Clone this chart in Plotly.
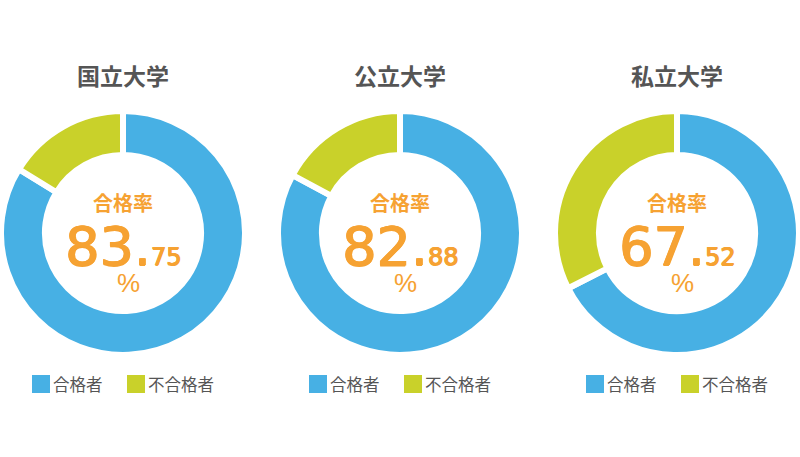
import plotly.graph_objects as go

W, H = 800, 457

# data
schools = ["国立大学", "公立大学", "私立大学"]
labels = ["合格者", "不合格者"]
pass_rate = [83.75, 82.88, 67.52]
colors = ["#47b0e4", "#c9d12a"]

ORANGE = "#f6a232"
GRAY = "#555555"
CENTERS_X = [123, 400, 677]   # px
CENTER_Y = 233                # px from top
R = 122                       # outer radius incl. white border
HOLE = 0.64
# a little extra ink on the big digits (medium weight in the original)
THICK = f"0.9px 0 0 {ORANGE}, -0.4px 0 0 {ORANGE}, 0 0.6px 0 {ORANGE}"


def px(x):
    return x / W


def py(y_top):
    return (H - y_top) / H


fig = go.Figure()
annotations = []
shapes = []

for i, (name, rate) in enumerate(zip(schools, pass_rate)):
    cx = CENTERS_X[i]
    fig.add_trace(go.Pie(
        labels=labels,
        values=[rate, round(100 - rate, 2)],
        hole=HOLE,
        sort=False,
        direction="clockwise",
        rotation=0,
        textinfo="none",
        hoverinfo="label+percent",
        marker=dict(colors=colors, line=dict(color="white", width=6)),
        domain=dict(x=[px(cx - R), px(cx + R)],
                    y=[py(CENTER_Y + R), py(CENTER_Y - R)]),
        showlegend=False,
    ))

    # title
    annotations.append(dict(
        x=px(cx), y=py(75), xref="paper", yref="paper",
        text=name, showarrow=False, xanchor="center", yanchor="middle",
        font=dict(family="Noto Sans CJK JP", size=23, color=GRAY, weight="bold"),
    ))
    # centre label
    annotations.append(dict(
        x=px(cx), y=py(202), xref="paper", yref="paper",
        text="合格率", showarrow=False, xanchor="center", yanchor="middle",
        font=dict(family="Noto Sans CJK JP", size=20, color=ORANGE, weight="bold"),
    ))
    whole, dec = f"{rate:.2f}".split(".")
    annotations.append(dict(
        x=px(cx), y=py(246), xref="paper", yref="paper",
        text=f"{whole}.<span style='font-size:24px'>{dec}</span>",
        showarrow=False, xanchor="center", yanchor="middle",
        font=dict(family="DejaVu Sans", size=54, color=ORANGE, shadow=THICK),
    ))
    annotations.append(dict(
        x=px(cx + 5), y=py(283), xref="paper", yref="paper",
        text="%", showarrow=False, xanchor="center", yanchor="middle",
        font=dict(family="Liberation Sans", size=26, color=ORANGE),
    ))

    # legend boxes
    for j, (lab, col) in enumerate(zip(labels, colors)):
        x0 = cx - 91 + j * 95
        shapes.append(dict(
            type="rect", xref="paper", yref="paper",
            x0=px(x0), x1=px(x0 + 18), y0=py(393), y1=py(375),
            fillcolor=col, line=dict(width=0),
        ))
        annotations.append(dict(
            x=px(x0 + 19), y=py(384), xref="paper", yref="paper",
            text=lab, showarrow=False, xanchor="left", yanchor="middle",
            font=dict(family="Noto Sans CJK JP", size=16.5, color=GRAY),
        ))

fig.update_layout(
    width=W, height=H,
    margin=dict(l=0, r=0, t=0, b=0),
    paper_bgcolor="white",
    plot_bgcolor="white",
    annotations=annotations,
    shapes=shapes,
)

# drop the browser's default 8px body margin so the chart sits at 0,0
fig.write_html("out.html", config={"displayModeBar": False},
               post_script="document.body.style.margin='0';")
